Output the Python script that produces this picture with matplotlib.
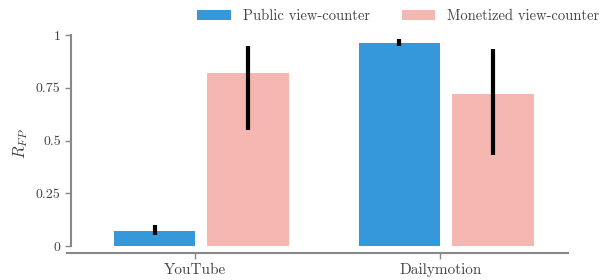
import matplotlib
matplotlib.use("Agg")
import matplotlib.pyplot as plt
import numpy as np

plt.rcParams['font.family'] = ['cmr10', 'DejaVu Serif']
plt.rcParams['mathtext.fontset'] = 'cm'
plt.rcParams['axes.unicode_minus'] = False

categories = ["YouTube", "Dailymotion"]
series_names = ["Public view-counter", "Monetized view-counter"]
public_vals = [0.07, 0.96]
public_lo = [0.05, 0.95]
public_hi = [0.10, 0.98]
monet_vals = [0.82, 0.72]
monet_lo = [0.55, 0.43]
monet_hi = [0.95, 0.935]
yticks = [0, 0.25, 0.5, 0.75, 1]
ytick_labels = ["0", "0.25", "0.5", "0.75", "1"]

c_pub = "#3498db"
c_mon = "#f5b7b1"
gray = "#444444"
spine_c = "#888888"

fig = plt.figure(figsize=(6.12, 2.8), dpi=100)
ax = fig.add_axes([67/612, 1-253/280, (568-67)/612, (253-35)/280])

x = np.arange(len(categories))
w = 0.333
gap = 0.049
pub_x = x - w/2
mon_x = x + gap + w/2

ax.bar(pub_x, public_vals, width=w, color=c_pub, label=series_names[0])
ax.bar(mon_x, monet_vals, width=w, color=c_mon, label=series_names[1])

pv = np.array(public_vals); mv = np.array(monet_vals)
ax.errorbar(pub_x, pv, yerr=[pv-np.array(public_lo), np.array(public_hi)-pv],
            fmt='none', ecolor='black', elinewidth=3, capsize=0)
ax.errorbar(mon_x, mv, yerr=[mv-np.array(monet_lo), np.array(monet_hi)-mv],
            fmt='none', ecolor='black', elinewidth=3, capsize=0)

ax.set_xlim(-0.524, 1.522)
ax.set_ylim(-0.033, 1.0)
ax.set_xticks(x)
ax.set_xticklabels(categories, color=gray, fontsize=11)
ax.set_yticks(yticks)
ax.set_yticklabels(ytick_labels, color=gray, fontsize=11)
ax.set_ylabel(r'$R_{FP}$', color=gray, fontsize=12)

for s in ['top', 'right']:
    ax.spines[s].set_visible(False)
ax.spines['left'].set_bounds(0, 1)
ax.spines['left'].set_position(('outward', -3))
for s in ['left', 'bottom']:
    ax.spines[s].set_color(spine_c)
    ax.spines[s].set_linewidth(1.5)
ax.tick_params(axis='both', colors=spine_c, labelcolor=gray, length=4, width=1)

ax.legend(loc='lower right', bbox_to_anchor=(1.085, 1.0), ncol=2, frameon=False,
          fontsize=10.5, labelcolor=gray, handlelength=2.3, handletextpad=0.8,
          columnspacing=2.2, borderaxespad=0.4)

fig.savefig("out.png", dpi=100)
